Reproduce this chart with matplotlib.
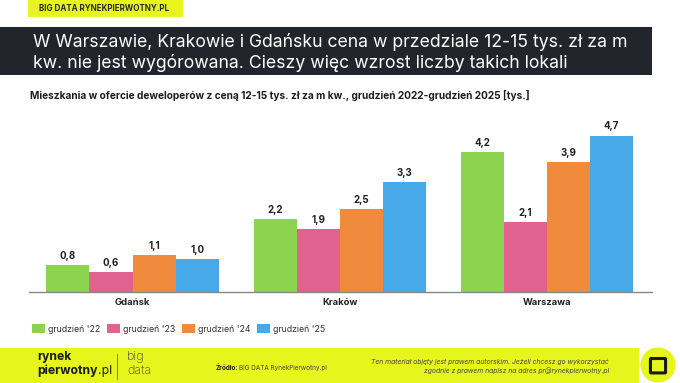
import matplotlib.pyplot as plt
from matplotlib.patches import Rectangle, Circle, FancyBboxPatch
import numpy as np

cities = ['Gdańsk', 'Kraków', 'Warszawa']
series = ["grudzień '22", "grudzień '23", "grudzień '24", "grudzień '25"]
dec22 = [0.8, 2.2, 4.2]
dec23 = [0.6, 1.9, 2.1]
dec24 = [1.1, 2.5, 3.9]
dec25 = [1.0, 3.3, 4.7]
colors = ['#8cd44f', '#e0628f', '#f08a3c', '#48a9e8']

W, H = 680, 383
plt.rcParams['font.family'] = ['Inter', 'DejaVu Sans']

fig = plt.figure(figsize=(W / 100, H / 100), dpi=100)
fig.patch.set_facecolor('white')


def fx(x):
    return x / W


def fy(y):
    return 1 - y / H


# top tag
fig.patches.append(Rectangle((fx(28), fy(17)), fx(155), 17 / H, transform=fig.transFigure,
                             facecolor='#e6f51c', edgecolor='none'))
fig.text(fx(39), fy(8.5), 'BIG DATA RYNEKPIERWOTNY.PL', fontsize=5.8, fontweight='bold',
         color='#2a2a2a', va='center')

# title banner
fig.patches.append(Rectangle((0, fy(75)), fx(652), 48 / H, transform=fig.transFigure,
                             facecolor='#23252d', edgecolor='none'))
fig.text(fx(33), fy(42), 'W Warszawie, Krakowie i Gdańsku cena w przedziale 12-15 tys. zł za m',
         fontsize=12.7, color='white', va='center')
fig.text(fx(33), fy(63), 'kw. nie jest wygórowana. Cieszy więc wzrost liczby takich lokali',
         fontsize=12.7, color='white', va='center')

fig.text(fx(30), fy(95), 'Mieszkania w ofercie deweloperów z ceną 12-15 tys. zł za m kw., '
         'grudzień 2022-grudzień 2025 [tys.]', fontsize=7.3, fontweight='bold',
         color='#1e1e1e', va='center')

# chart
ax = fig.add_axes([fx(29), 1 - 292 / H, fx(652 - 29), (292 - 110) / H])
x = np.arange(len(cities))
bw = 0.208
for i, (vals, c, lab) in enumerate(zip([dec22, dec23, dec24, dec25], colors, series)):
    pos = x + (i - 1.5) * bw
    bars = ax.bar(pos, vals, width=bw, color=c, label=lab)
    for b, v in zip(bars, vals):
        ax.annotate(f'{v:.1f}'.replace('.', ','), (b.get_x() + b.get_width() / 2, v),
                    xytext=(0, 3), textcoords='offset points', ha='center', va='bottom',
                    fontsize=7, fontweight='bold', color='#222222')
ax.set_xlim(-0.5, 2.507)
ax.set_ylim(0, 5.47)
ax.set_yticks([])
ax.set_xticks(x)
ax.set_xticklabels(cities, fontsize=6.8, fontweight='bold', color='#222222')
ax.tick_params(axis='x', length=0, pad=4)
for s in ['top', 'right', 'left']:
    ax.spines[s].set_visible(False)
ax.spines['bottom'].set_color('#888888')
ax.spines['bottom'].set_linewidth(1)
ax.patch.set_alpha(0)

leg = fig.legend(loc='center left', bbox_to_anchor=(fx(24), fy(329)), ncol=4, frameon=False,
                 fontsize=6.3, handlelength=1.5, handleheight=1.2, handletextpad=0.3,
                 columnspacing=0.8, labelcolor='#333333')

# footer
fig.patches.append(Rectangle((0, 0), fx(639), 35 / H, transform=fig.transFigure,
                             facecolor='#e6f51c', edgecolor='none'))
circ_ax = fig.add_axes([fx(640), 0, fx(36), 36 / H])
circ_ax.set_xlim(-1, 1)
circ_ax.set_ylim(-1, 1)
circ_ax.set_aspect('equal')
circ_ax.axis('off')
circ_ax.add_patch(Circle((0, 0), 0.98, facecolor='#e6f51c', edgecolor='none'))
circ_ax.add_patch(FancyBboxPatch((-0.38, -0.4), 0.76, 0.72, boxstyle='round,pad=0.04',
                                 facecolor='none', edgecolor='#1a1a1a', linewidth=2.2))

logo_ax = fig.add_axes([fx(12), fy(378), fx(20), 22 / H])
logo_ax.set_xlim(0, 1)
logo_ax.set_ylim(0, 1)
logo_ax.axis('off')
logo_ax.add_patch(FancyBboxPatch((0.12, 0.12), 0.76, 0.72, boxstyle='round,pad=0.05',
                                 facecolor='none', edgecolor='#1a1a1a', linewidth=2.4))

fig.text(fx(37), fy(357), 'rynek', fontsize=8.8, fontweight='bold', color='#1a1a1a', va='center')
t = fig.text(fx(37), fy(371), 'pierwotny', fontsize=8.8, fontweight='bold', color='#1a1a1a',
             va='center')
bb = t.get_window_extent(renderer=fig.canvas.get_renderer())
fig.text(bb.x1 / W + 0.5 / W, fy(371), '.pl', fontsize=8.8, color='#1a1a1a', va='center')
fig.lines.append(plt.Line2D([fx(117), fx(117)], [fy(354), fy(379)], transform=fig.transFigure,
                            color='#666666', linewidth=0.6))
fig.text(fx(127), fy(357), 'big', fontsize=9, fontweight='light', color='#444444', va='center')
fig.text(fx(127), fy(371), 'data', fontsize=9, fontweight='light', color='#444444', va='center')
fig.text(fx(216), fy(368), 'Źródło:', fontsize=4.6, fontweight='bold', color='#222222', va='center')
fig.text(fx(239), fy(368), 'BIG DATA RynekPierwotny.pl', fontsize=4.6, color='#444444', va='center')
fig.text(fx(609), fy(362), 'Ten materiał objęty jest prawem autorskim. Jeżeli chcesz go wykorzystać',
         fontsize=4.9, style='italic', color='#444444', va='center', ha='right')
fig.text(fx(609), fy(371), 'zgodnie z prawem napisz na adres pr@rynekpierwotny.pl',
         fontsize=4.9, style='italic', color='#444444', va='center', ha='right')

fig.savefig('out.png', dpi=100)
